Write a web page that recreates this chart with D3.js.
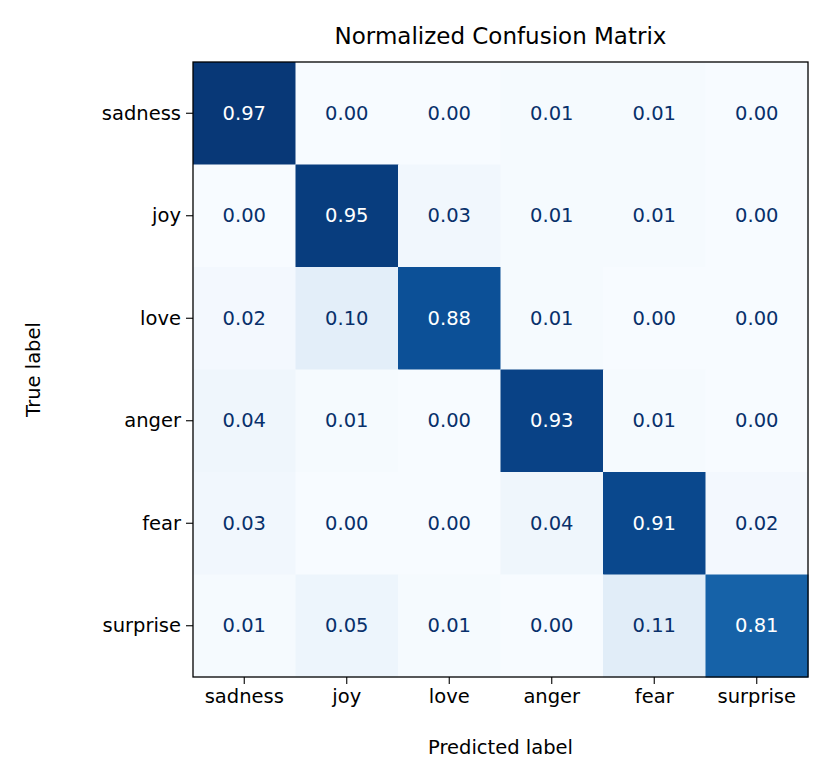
<!DOCTYPE html>
<html><head><meta charset="utf-8">
<script src="https://cdn.jsdelivr.net/npm/d3@7"></script>
<style>body{margin:0;background:#fff}text{font-family:"DejaVu Sans",sans-serif}</style>
</head><body><svg id="c" width="835" height="784"></svg>
<script>
const labels = ["sadness","joy","love","anger","fear","surprise"];
const matrix = [
 [0.97,0.00,0.00,0.01,0.01,0.00],
 [0.00,0.95,0.03,0.01,0.01,0.00],
 [0.02,0.10,0.88,0.01,0.00,0.00],
 [0.04,0.01,0.00,0.93,0.01,0.00],
 [0.03,0.00,0.00,0.04,0.91,0.02],
 [0.01,0.05,0.01,0.00,0.11,0.81]
];
const title = "Normalized Confusion Matrix";
const svg = d3.select("#c");
const L=193,T=62,S=615;
const x = d3.scaleBand().domain(labels).range([L,L+S]);
const y = d3.scaleBand().domain(labels).range([T,T+S]);
const color = d3.scaleSequential(d3.interpolateBlues).domain([0,1]);
const cells=[];
matrix.forEach((r,i)=>r.forEach((v,j)=>cells.push({i,j,v})));
svg.selectAll("rect.c").data(cells).join("rect")
 .attr("x",d=>x(labels[d.j])).attr("y",d=>y(labels[d.i]))
 .attr("width",x.bandwidth()+0.5).attr("height",y.bandwidth()+0.5)
 .attr("fill",d=>color(d.v));
const thr=(d3.max(cells,d=>d.v)+d3.min(cells,d=>d.v))/2;
svg.selectAll("text.v").data(cells).join("text")
 .attr("x",d=>x(labels[d.j])+x.bandwidth()/2).attr("y",d=>y(labels[d.i])+y.bandwidth()/2)
 .attr("text-anchor","middle").attr("dominant-baseline","central")
 .attr("font-size",19.5).attr("fill",d=>d.v>thr?"#ffffff":"#08306b")
 .text(d=>d.v.toFixed(2));
svg.append("rect").attr("x",L).attr("y",T).attr("width",S).attr("height",S)
 .attr("fill","none").attr("stroke","#000").attr("stroke-width",1.3);
const ax=svg.append("g").attr("transform",`translate(0,${T+S})`).call(d3.axisBottom(x).tickSize(7).tickPadding(5));
const ay=svg.append("g").attr("transform",`translate(${L},0)`).call(d3.axisLeft(y).tickSize(7).tickPadding(5));
[ax,ay].forEach(g=>{g.select(".domain").remove();g.selectAll("line").attr("stroke","#000").attr("stroke-width",1.1);
 g.selectAll("text").attr("font-size",19.5).attr("fill","#000").style("font-family","DejaVu Sans");});
svg.append("text").attr("x",L+S/2).attr("y",44).attr("text-anchor","middle").attr("font-size",23).text(title);
svg.append("text").attr("x",L+S/2).attr("y",754).attr("text-anchor","middle").attr("font-size",19.5).text("Predicted label");
svg.append("text").attr("transform",`translate(40,${T+S/2}) rotate(-90)`).attr("text-anchor","middle").attr("font-size",19.5).text("True label");
</script></body></html>
